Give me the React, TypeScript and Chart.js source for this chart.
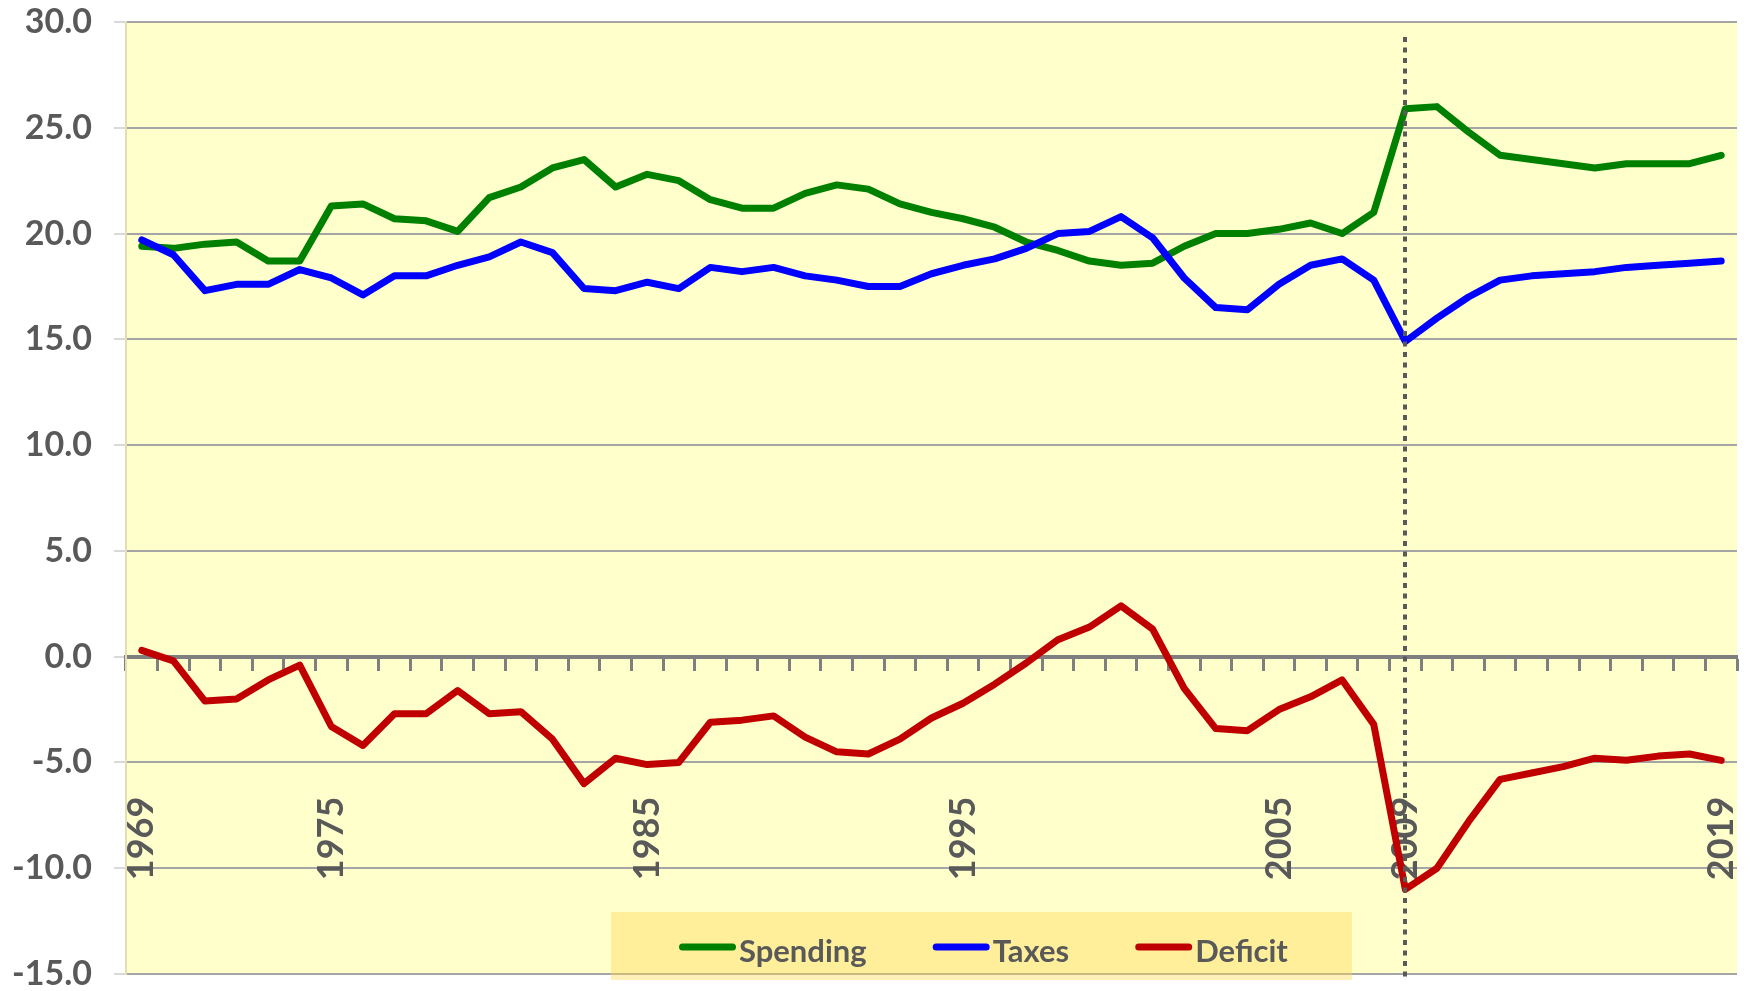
import React, { useEffect, useRef } from "react";
import { Chart, registerables } from "chart.js";

Chart.register(...registerables);

const years = [
  "1969", "1970", "1971", "1972", "1973", "1974", "1975", "1976", "1977", "1978",
  "1979", "1980", "1981", "1982", "1983", "1984", "1985", "1986", "1987", "1988",
  "1989", "1990", "1991", "1992", "1993", "1994", "1995", "1996", "1997", "1998",
  "1999", "2000", "2001", "2002", "2003", "2004", "2005", "2006", "2007", "2008",
  "2009", "2010", "2011", "2012", "2013", "2014", "2015", "2016", "2017", "2018",
  "2019",
];

const spending = [
  19.4, 19.3, 19.5, 19.6, 18.7, 18.7, 21.3, 21.4, 20.7, 20.6,
  20.1, 21.7, 22.2, 23.1, 23.5, 22.2, 22.8, 22.5, 21.6, 21.2,
  21.2, 21.9, 22.3, 22.1, 21.4, 21.0, 20.7, 20.3, 19.6, 19.2,
  18.7, 18.5, 18.6, 19.4, 20.0, 20.0, 20.2, 20.5, 20.0, 21.0,
  25.9, 26.0, 24.8, 23.7, 23.5, 23.3, 23.1, 23.3, 23.3, 23.3,
  23.7,
];

const taxes = [
  19.7, 19.0, 17.3, 17.6, 17.6, 18.3, 17.9, 17.1, 18.0, 18.0,
  18.5, 18.9, 19.6, 19.1, 17.4, 17.3, 17.7, 17.4, 18.4, 18.2,
  18.4, 18.0, 17.8, 17.5, 17.5, 18.1, 18.5, 18.8, 19.3, 20.0,
  20.1, 20.8, 19.8, 17.9, 16.5, 16.4, 17.6, 18.5, 18.8, 17.8,
  14.9, 16.0, 17.0, 17.8, 18.0, 18.1, 18.2, 18.4, 18.5, 18.6,
  18.7,
];

const deficit = [
  0.3, -0.2, -2.1, -2.0, -1.1, -0.4, -3.3, -4.2, -2.7, -2.7,
  -1.6, -2.7, -2.6, -3.9, -6.0, -4.8, -5.1, -5.0, -3.1, -3.0,
  -2.8, -3.8, -4.5, -4.6, -3.9, -2.9, -2.2, -1.3, -0.3, 0.8,
  1.4, 2.4, 1.3, -1.5, -3.4, -3.5, -2.5, -1.9, -1.1, -3.2,
  -11.0, -10.0, -7.8, -5.8, -5.5, -5.2, -4.8, -4.9, -4.7, -4.6,
  -4.9,
];

const shownYearLabels = ["1969", "1975", "1985", "1995", "2005", "2009", "2019"];
const markerYear = "2009";

const seriesNames = ["Spending", "Taxes", "Deficit"];
const seriesColors = ["#008000", "#0000FF", "#C00000"];

const TEXT = "#595959";

const plotBackground = {
  id: "plotBackground",
  beforeDraw(chart: any) {
    const { ctx, chartArea } = chart;
    ctx.save();
    ctx.fillStyle = "#FFFFCC";
    ctx.fillRect(chartArea.left, chartArea.top, chartArea.right - chartArea.left, chartArea.bottom - chartArea.top);
    ctx.restore();
  },
};

const markerAndLegend = {
  id: "markerAndLegend",
  afterDraw(chart: any) {
    const { ctx, chartArea } = chart;
    const xs = chart.scales.x;
    const idx = years.indexOf(markerYear);
    const px = Math.round(xs.getPixelForValue(idx));
    ctx.save();
    // dotted marker line
    ctx.strokeStyle = "#595959";
    ctx.lineWidth = 4;
    ctx.setLineDash([5, 5.5]);
    ctx.beginPath();
    ctx.moveTo(px, chartArea.top + 15);
    ctx.lineTo(px, chartArea.bottom + 7);
    ctx.stroke();
    ctx.setLineDash([]);

    // legend box
    const boxL = 611, boxR = 1352, boxT = 912, boxB = 980;
    ctx.fillStyle = "rgba(255, 214, 80, 0.4)";
    ctx.fillRect(boxL, boxT, boxR - boxL, boxB - boxT);

    ctx.font = "bold 31px Lato";
    ctx.textBaseline = "alphabetic";
    ctx.textAlign = "left";
    let x = 679;
    const lineY = 947;
    const textY = 962;
    chart.data.datasets.forEach((ds: any) => {
      ctx.strokeStyle = ds.borderColor;
      ctx.lineWidth = 7;
      ctx.lineCap = "round";
      ctx.beginPath();
      ctx.moveTo(x + 3.5, lineY);
      ctx.lineTo(x + 53.5, lineY);
      ctx.stroke();
      ctx.fillStyle = TEXT;
      ctx.fillText(ds.label, x + 60, textY);
      const w = ctx.measureText(ds.label).width;
      x += 60 + w + 66;
    });
    ctx.restore();
  },
};

export default function App() {
  const canvasRef = useRef<HTMLCanvasElement | null>(null);

  useEffect(() => {
    if (!canvasRef.current) return;
    const values = [spending, taxes, deficit];
    const chart = new Chart(canvasRef.current, {
      type: "line",
      data: {
        labels: years,
        datasets: values.map((v, i) => ({
          label: seriesNames[i],
          data: v,
          borderColor: seriesColors[i],
          backgroundColor: seriesColors[i],
          borderWidth: 7,
          pointRadius: 0,
          pointHoverRadius: 0,
          tension: 0,
          fill: false,
          borderCapStyle: "round",
          borderJoinStyle: "round",
          order: 3 - i,
        })),
      },
      plugins: [plotBackground, markerAndLegend],
      options: {
        animation: false,
        responsive: true,
        maintainAspectRatio: false,
        layout: { autoPadding: false, padding: { left: 0, right: 18, top: 22, bottom: 17 } },
        plugins: {
          legend: { display: false },
          tooltip: { enabled: false },
          title: { display: false },
        },
        scales: {
          x: {
            type: "category",
            position: { y: 0 },
            offset: true,
            afterFit: (s: any) => {
              s.height = 0;
              s.paddingLeft = 0;
              s.paddingRight = 0;
              s.paddingTop = 0;
              s.paddingBottom = 0;
            },
            grid: {
              offset: true,
              drawOnChartArea: false,
              drawTicks: true,
              tickLength: 12,
              tickWidth: 3,
              tickColor: "#7f7f7f",
            },
            border: { display: true, color: "#7f7f7f", width: 4 },
            ticks: {
              autoSkip: false,
              minRotation: 90,
              maxRotation: 90,
              padding: 128,
              color: TEXT,
              font: { family: "Lato", weight: "bold", size: 36, lineHeight: 1 },
              callback: (_v: any, i: number) => (shownYearLabels.includes(years[i]) ? years[i] : ""),
            },
          },
          y: {
            type: "linear",
            min: -15,
            max: 30,
            afterFit: (s: any) => {
              s.width = 126;
              s.paddingTop = 0;
              s.paddingBottom = 0;
              s.paddingLeft = 0;
              s.paddingRight = 0;
            },
            grid: {
              color: "#a5a5a5",
              lineWidth: 2,
              tickLength: 12,
              tickColor: "#d9d9d9",
              tickWidth: 2,
            },
            border: { display: true, color: "#e3dfb3", width: 2 },
            ticks: {
              stepSize: 5,
              padding: 22,
              color: TEXT,
              font: { family: "Lato", weight: "bold", size: 34, lineHeight: 1 },
              callback: (v: any) => Number(v).toFixed(1),
            },
          },
        },
      },
    } as any);
    return () => chart.destroy();
  }, []);

  return (
    <div style={{ position: "absolute", left: 0, top: 0, width: 1755, height: 991, background: "#ffffff" }}>
      <canvas ref={canvasRef} />
    </div>
  );
}
